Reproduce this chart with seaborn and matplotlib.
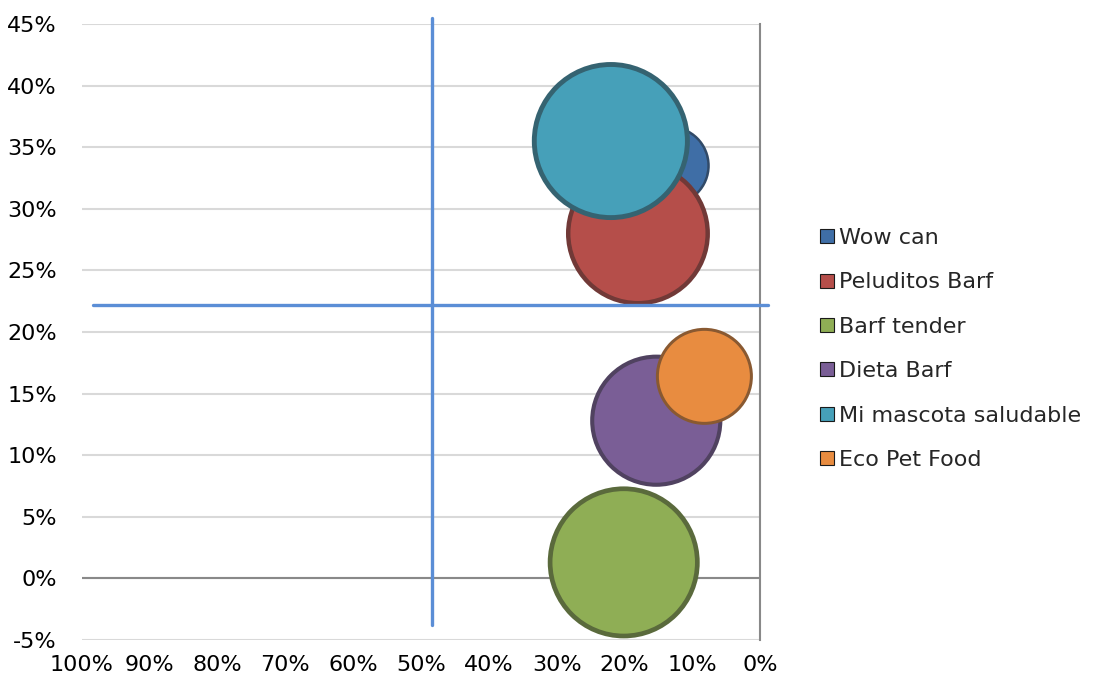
import matplotlib
matplotlib.use("Agg")
import matplotlib.pyplot as plt
from matplotlib.lines import Line2D
import seaborn as sns
import pandas as pd

brands = ["Wow can", "Peluditos Barf", "Barf tender", "Dieta Barf",
          "Mi mascota saludable", "Eco Pet Food"]
x_vals = [13.3, 18.0, 20.1, 15.3, 22.0, 8.2]      # % (axis reversed)
y_vals = [33.5, 28.0, 1.3, 12.8, 35.5, 16.4]      # %
bubble = [25.6, 83, 92.5, 70, 100, 37.7]          # relative bubble size
colors = ["#3F6EA6", "#B54E4A", "#8FAE55", "#7A5E96", "#46A0B9", "#E88C40"]

quad_x = 48.4
quad_y = 22.2

x_ticks = list(range(0, 101, 10))
y_ticks = list(range(-5, 46, 5))

df = pd.DataFrame({"brand": brands, "x": x_vals, "y": y_vals,
                   "size": bubble, "color": colors})

sns.set_style("white")
plt.rcParams["font.family"] = ["DejaVu Sans"]

fig = plt.figure(figsize=(11, 6.83), dpi=100)
ax = fig.add_axes([82 / 1100, 43 / 683, 678 / 1100, 616 / 683])

scale = 129.4  # points^2 per size unit
for _, r in df.iterrows():
    rim = sns.dark_palette(r["color"], n_colors=5)[2]
    sns.scatterplot(x=[r["x"]], y=[r["y"]], s=r["size"] * scale, color=rim,
                    edgecolor="none", ax=ax, zorder=3, legend=False)
    sns.scatterplot(x=[r["x"]], y=[r["y"]], s=r["size"] * scale * 0.88,
                    color=r["color"], edgecolor="none", ax=ax, zorder=3,
                    legend=False)

ax.set_xlim(100, 0)
ax.set_ylim(-5, 45)
ax.set_xticks(x_ticks)
ax.set_xticklabels([f"{t}%" for t in x_ticks])
ax.set_yticks(y_ticks)
ax.set_yticklabels([f"{t}%" for t in y_ticks])
ax.tick_params(axis="both", length=0, labelsize=16, colors="black")
ax.tick_params(axis="y", pad=18)
ax.tick_params(axis="x", pad=11)
ax.set_xlabel("")
ax.set_ylabel("")

ax.yaxis.grid(True, color="#D9D9D9", lw=1.5, zorder=0)
ax.xaxis.grid(False)
ax.set_axisbelow(True)
ax.axhline(0, color="#898989", lw=1.5, zorder=1)
for s in ["left", "top", "bottom"]:
    ax.spines[s].set_visible(False)
ax.spines["right"].set_color("#898989")
ax.spines["right"].set_linewidth(1.5)

ax.axvline(quad_x, ymin=0.024, ymax=1.01, color="#5B8ED6", lw=2.4,
           clip_on=False, zorder=4)
ax.axhline(quad_y, xmin=0.016, xmax=1.012, color="#5B8ED6", lw=2.4,
           clip_on=False, zorder=4)

handles = [Line2D([], [], marker="s", ls="none", markersize=10,
                  markerfacecolor=c, markeredgecolor="#1a1a1a",
                  markeredgewidth=0.8) for c in colors]
fig.legend(handles, brands, loc="center left",
           bbox_to_anchor=(808 / 1100, 1 - 349 / 683), frameon=False,
           fontsize=16, handlelength=0.7, handletextpad=0.2,
           labelspacing=1.1, borderpad=0)

fig.savefig("out.png", dpi=100)
